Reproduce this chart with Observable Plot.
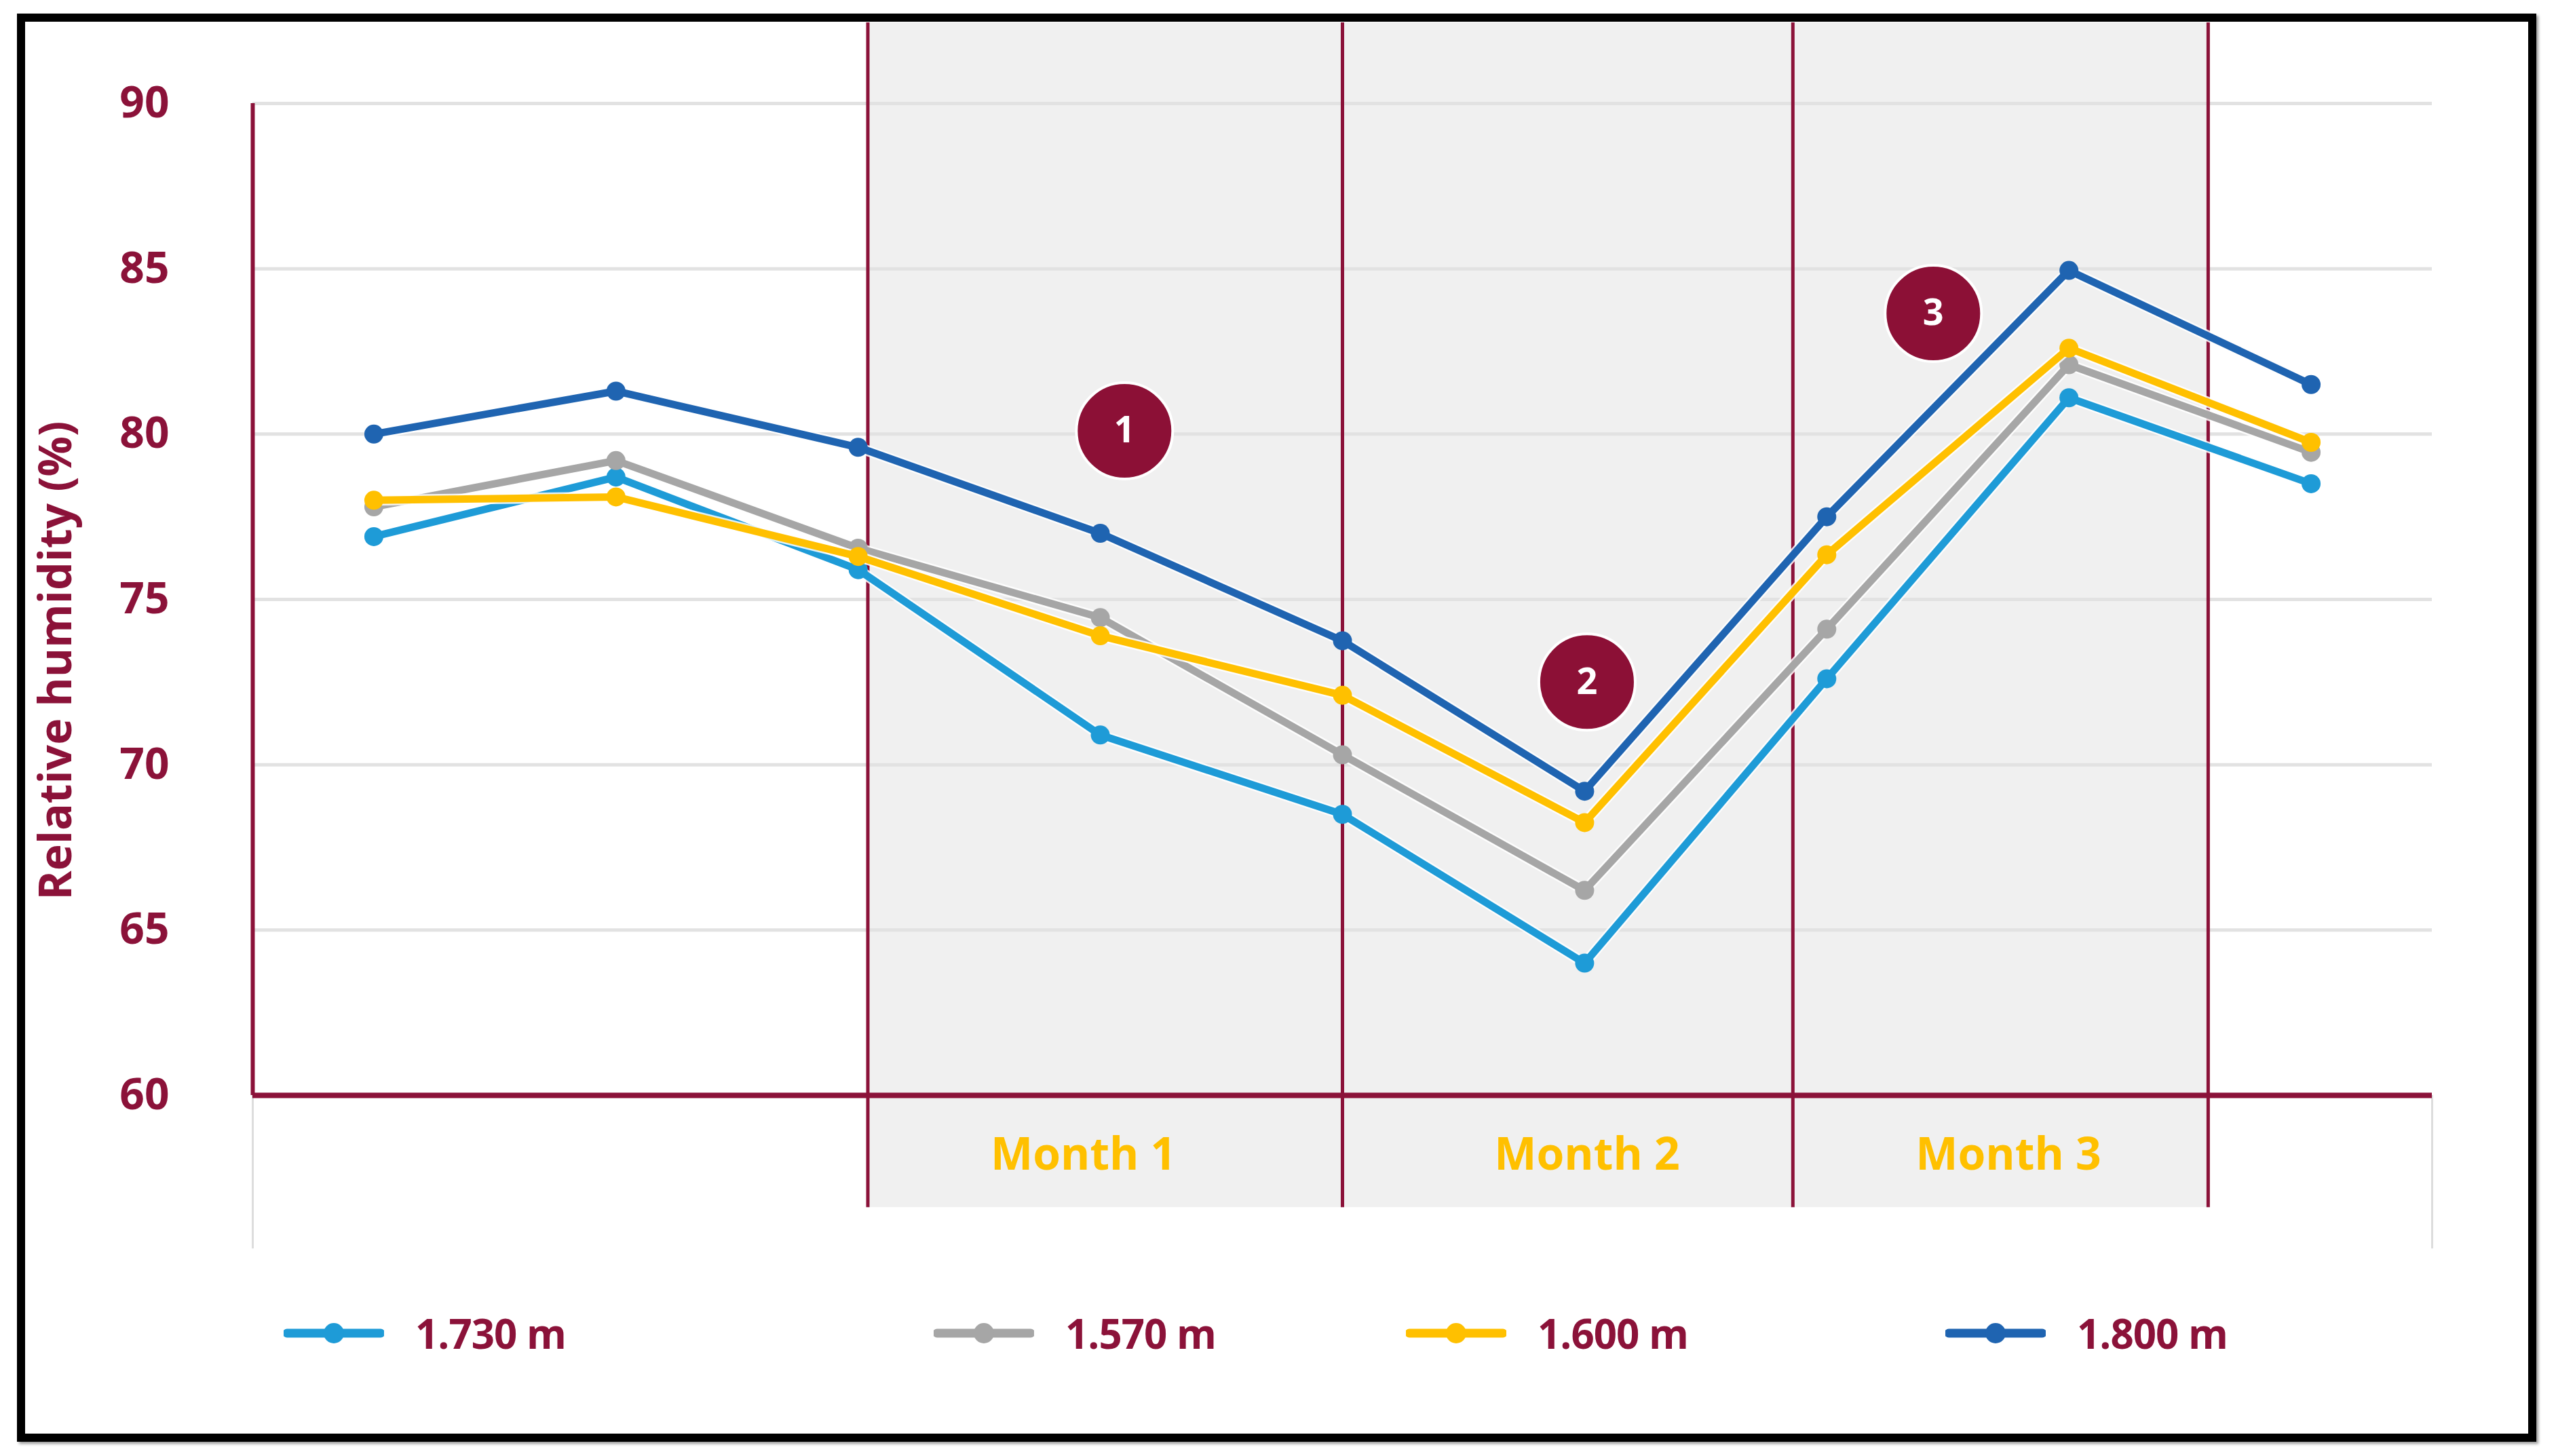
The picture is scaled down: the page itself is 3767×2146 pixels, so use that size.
<!DOCTYPE html>
<html>
<head>
<meta charset="utf-8">
<script src="https://cdn.jsdelivr.net/npm/d3@7"></script>
<script src="https://cdn.jsdelivr.net/npm/@observablehq/plot@0.6"></script>
<style>
  html, body { margin: 0; padding: 0; background: #fff; }
  #page { position: relative; width: 3767px; height: 2146px; overflow: hidden; font-family: "Open Sans", sans-serif; }
  #border { position: absolute; left: 25px; top: 20px; width: 3713px; height: 2105px; box-sizing: border-box; border: 12px solid #000; box-shadow: 3px 3px 4px rgba(0,0,0,0.4); pointer-events: none; }
  #chart { position: absolute; left: 0; top: 0; }
  #legend { position: absolute; left: 0; top: 1920px; width: 3767px; height: 90px; }
  .item { position: absolute; top: 0; height: 90px; display: flex; align-items: center; }
  .item span { font-weight: 700; font-size: 60px; color: #8B1239; margin-left: 46px; letter-spacing: -1px; }
</style>
</head>
<body>
<div id="page">
  <div id="chart"></div>
  <div id="legend"></div>
  <div id="border"></div>
</div>
<script>
// ---- data ----
const seriesNames = ["1.730 m", "1.570 m", "1.600 m", "1.800 m"];
const seriesColors = ["#1E9BD7", "#A6A6A6", "#FFC000", "#1F64B1"];
const values1730 = [76.9, 78.7, 75.9, 70.9, 68.5, 64.0, 72.6, 81.1, 78.5];
const values1570 = [77.8, 79.2, 76.55, 74.45, 70.3, 66.2, 74.1, 82.1, 79.45];
const values1600 = [78.0, 78.1, 76.3, 73.9, 72.1, 68.25, 76.35, 82.6, 79.75];
const values1800 = [80.0, 81.3, 79.6, 77.0, 73.75, 69.2, 77.5, 84.95, 81.5];
const yTicks = [60, 65, 70, 75, 80, 85, 90];
const monthBounds = [2.04, 4.0, 5.86, 7.575];
const monthLabels = ["Month 1", "Month 2", "Month 3"];
const monthLabelX = [2.93, 5.01, 6.75];
const badgeLabels = ["1", "2", "3"];
const badgeX = [3.1, 5.01, 6.44];
const badgeY = [80.1, 72.5, 83.65];
const yTitle = "Relative humidity (%)";

// ---- build ----
const maroon = "#8B1239";
const allSeries = [values1730, values1570, values1600, values1800];
const rows = [];
allSeries.forEach((vals, s) => vals.forEach((v, i) => rows.push({series: seriesNames[s], i, v})));
const badges = badgeLabels.map((t, k) => ({t, x: badgeX[k], y: badgeY[k]}));
const months = monthLabels.map((t, k) => ({t, x: monthLabelX[k]}));
const xDomain = [-0.5, 8.5];

const lineMarks = [];
seriesNames.forEach((name, s) => {
  const d = rows.filter(r => r.series === name);
  lineMarks.push(Plot.line(d, {x: "i", y: "v", stroke: "#fff", strokeWidth: 16, strokeOpacity: 0.85}));
  lineMarks.push(Plot.line(d, {x: "i", y: "v", stroke: seriesColors[s], strokeWidth: 11}));
  lineMarks.push(Plot.dot(d, {x: "i", y: "v", fill: seriesColors[s], r: 14}));
});

const chart = Plot.plot({
  width: 3767,
  height: 1880,
  marginLeft: 372,
  marginRight: 183,
  marginTop: 152,
  marginBottom: 266,
  style: {background: "transparent", overflow: "visible"},
  x: {domain: xDomain, axis: null},
  y: {domain: [60, 90], axis: null},
  marks: [
    Plot.rect([{x1: monthBounds[0], x2: monthBounds[monthBounds.length - 1]}], {x1: "x1", x2: "x2", y1: 56.61, y2: 92.44, fill: "#F0F0F0"}),
    Plot.ruleY(yTicks.filter(t => t > 60), {stroke: "#E2E2E2", strokeWidth: 5}),
    Plot.ruleX(xDomain, {y1: 60, y2: 55.36, stroke: "#DDDDDD", strokeWidth: 3}),
    Plot.ruleX(monthBounds, {y1: 56.61, y2: 92.44, stroke: maroon, strokeWidth: 5}),
    Plot.ruleX([xDomain[0]], {y1: 60, y2: 90, stroke: maroon, strokeWidth: 6}),
    Plot.ruleY([60], {stroke: maroon, strokeWidth: 8}),
    Plot.text(yTicks, {y: d => d, frameAnchor: "left", dx: -123, textAnchor: "end", lineAnchor: "middle", fill: maroon, fontSize: 64, fontWeight: 700, fontFamily: "Open Sans"}),
    Plot.text([yTitle], {x: -1.31, y: 73.15, rotate: -90, lineAnchor: "middle", fill: maroon, fontSize: 66, fontWeight: 700, fontFamily: "Open Sans"}),
    Plot.text(months, {x: "x", text: "t", frameAnchor: "bottom", dy: 88, lineAnchor: "middle", fill: "#FFC000", fontSize: 66, fontWeight: 700, fontFamily: "Open Sans"}),
    ...lineMarks,
    Plot.dot(badges, {x: "x", y: "y", r: 71, fill: "#8C1036", stroke: "#fff", strokeWidth: 4}),
    Plot.text(badges, {x: "x", y: "y", text: "t", lineAnchor: "middle", fill: "#fff", fontSize: 54, fontWeight: 700, fontFamily: "Open Sans"})
  ]
});
document.getElementById("chart").appendChild(chart);

// ---- legend ----
const legendLeft = [418, 1376, 2072, 2867];
const legend = document.getElementById("legend");
seriesNames.forEach((name, s) => {
  const item = document.createElement("div");
  item.className = "item";
  item.style.left = legendLeft[s] + "px";
  item.innerHTML = `<svg width="148" height="40"><line x1="5" y1="20" x2="143" y2="20" stroke="${seriesColors[s]}" stroke-width="13" stroke-linecap="round"/><circle cx="74" cy="20" r="15" fill="${seriesColors[s]}"/></svg><span>${name}</span>`;
  legend.appendChild(item);
});
</script>
</body>
</html>
